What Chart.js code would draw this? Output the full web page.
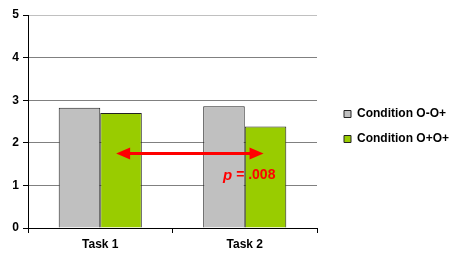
<!DOCTYPE html>
<html>
<head>
<meta charset="utf-8">
<script src="https://cdn.jsdelivr.net/npm/chart.js@4"></script>
<style>
  body { margin: 0; background: #fff; }
  #wrap { width: 455px; height: 256px; position: relative; }
</style>
</head>
<body>
<div id="wrap"><canvas id="chart"></canvas></div>
<script>
// Données
const categories = ['Task 1', 'Task 2'];
const seriesLabels = ['Condition O-O+', 'Condition O+O+'];
const valuesOO = [2.82, 2.86];
const valuesOplus = [2.70, 2.38];
const yTicks = [0, 1, 2, 3, 4, 5];

// Flèche de comparaison (en unités du graphe)
const arrowY = 1.75;
const arrowFrom = 0.11;
const arrowTo = 1.13;
const pLabel = ['p', ' = .008'];
const pLabelX = 0.85;
const pLabelY = 1.23;

const FONT = '"Liberation Sans", Arial, sans-serif';

// Flèche rouge + texte p
const arrowPlugin = {
  id: 'arrow',
  afterDatasetsDraw(chart) {
    const { ctx, scales: { x, y } } = chart;
    const yy = y.getPixelForValue(arrowY);
    const x1 = x.getPixelForValue(arrowFrom);
    const x2 = x.getPixelForValue(arrowTo);
    const head = 14, half = 6;
    ctx.save();
    ctx.strokeStyle = '#ff0000';
    ctx.fillStyle = '#ff0000';
    ctx.lineWidth = 3;
    ctx.beginPath();
    ctx.moveTo(x1 + head - 2, yy);
    ctx.lineTo(x2 - head + 2, yy);
    ctx.stroke();
    ctx.beginPath();
    ctx.moveTo(x1, yy); ctx.lineTo(x1 + head, yy - half); ctx.lineTo(x1 + head, yy + half); ctx.closePath();
    ctx.fill();
    ctx.beginPath();
    ctx.moveTo(x2, yy); ctx.lineTo(x2 - head, yy - half); ctx.lineTo(x2 - head, yy + half); ctx.closePath();
    ctx.fill();
    // texte
    const tx = x.getPixelForValue(pLabelX);
    const ty = y.getPixelForValue(pLabelY);
    ctx.textBaseline = 'middle';
    ctx.textAlign = 'left';
    ctx.font = 'italic bold 15px ' + FONT;
    ctx.fillText(pLabel[0], tx, ty);
    const w = ctx.measureText(pLabel[0]).width;
    ctx.font = 'bold 14px ' + FONT;
    ctx.fillText(pLabel[1], tx + w, ty);
    ctx.restore();
  }
};

// Légende : largeur fixe et décalage
const legendFit = {
  id: 'legendFit',
  beforeUpdate(chart) {
    const lg = chart.legend;
    if (lg && !lg._patched) {
      const orig = lg.fit;
      lg.fit = function () { orig.call(this); this.width = 138; };
      lg._patched = true;
    }
  },
  afterLayout(chart) {
    chart.legend.left += 14;
    chart.legend.top -= 9;
    chart.legend.bottom -= 9;
  }
};

const ctx = document.getElementById('chart').getContext('2d');
new Chart(ctx, {
  type: 'bar',
  data: {
    labels: categories,
    datasets: [
      { label: seriesLabels[0], data: valuesOO, backgroundColor: '#c0c0c0', borderColor: '#222222', borderWidth: 1 },
      { label: seriesLabels[1], data: valuesOplus, backgroundColor: '#99cc00', borderColor: '#222222', borderWidth: 1 }
    ]
  },
  options: {
    responsive: true,
    maintainAspectRatio: false,
    animation: false,
    layout: { padding: { top: 15, left: 0, right: 0, bottom: 0 } },
    datasets: { bar: { categoryPercentage: 0.575, barPercentage: 1 } },
    plugins: {
      tooltip: { enabled: false },
      legend: {
        position: 'right',
        align: 'center',
        labels: {
          boxWidth: 7, boxHeight: 7, padding: 13,
          color: '#000', font: { family: FONT, size: 12, weight: 'bold' }
        }
      }
    },
    scales: {
      x: {
        grid: { offset: true, drawOnChartArea: false, drawTicks: true, tickLength: 5, tickColor: '#000' },
        border: { color: '#000', width: 1 },
        ticks: { color: '#000', padding: 4, font: { family: FONT, size: 12, weight: 'bold' } },
        afterFit(s) { s.height = 28; }
      },
      y: {
        min: 0, max: 5,
        afterBuildTicks(s) { s.ticks = yTicks.map(v => ({ value: v })); },
        grid: {
          color: c => c.tick && c.tick.value === 5 ? '#c0c0c0' : '#808080',
          tickLength: 5, tickColor: '#000'
        },
        border: { color: '#000', width: 1 },
        ticks: { color: '#000', padding: 4, font: { family: FONT, size: 12, weight: 'bold' } },
        afterFit(s) { s.width = 28; }
      }
    }
  },
  plugins: [arrowPlugin, legendFit]
});
</script>
</body>
</html>
